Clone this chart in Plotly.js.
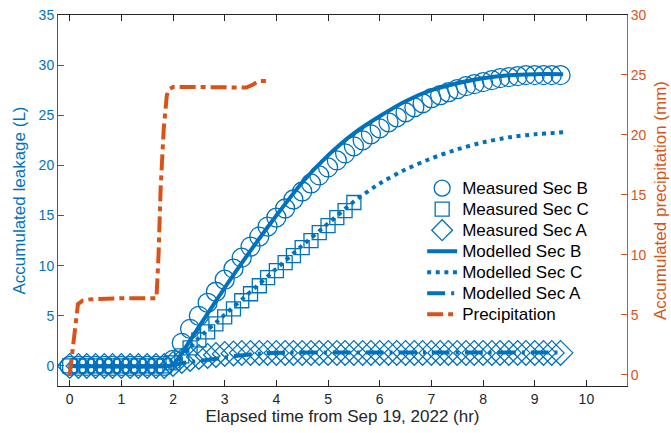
<!DOCTYPE html>
<html>
<head>
<meta charset="utf-8">
<script src="https://cdn.plot.ly/plotly-3.0.1.min.js"></script>
<style>html,body{margin:0;padding:0;background:#fff;}#chart{width:671px;height:433px;}</style>
</head>
<body>
<div id="chart"></div>
<script>
// Measured sampling times (hr)
const tMeas = [0, 0.17, 0.33, 0.5, 0.67, 0.83, 1.0, 1.17, 1.33, 1.5, 1.67, 1.83,
  2.0, 2.17, 2.33, 2.5, 2.67, 2.83, 3.0, 3.17, 3.33, 3.5, 3.67, 3.83,
  4.0, 4.17, 4.33, 4.5, 4.67, 4.83, 5.0, 5.17, 5.33, 5.5, 5.67, 5.83,
  6.0, 6.17, 6.33, 6.5, 6.67, 6.83, 7.0, 7.17, 7.33, 7.5, 7.67, 7.83,
  8.0, 8.17, 8.33, 8.5, 8.67, 8.83, 9.0, 9.17, 9.33, 9.5];
const measB = [0, 0, 0, 0, 0, 0, 0, 0, 0, 0, 0, 0,
  0.6, 2.3, 3.7, 5.0, 6.3, 7.4, 8.6, 9.7, 10.8, 11.9, 12.9, 13.9,
  14.8, 15.7, 16.6, 17.4, 18.2, 19.0, 19.8, 20.5, 21.2, 21.9, 22.5, 23.1,
  23.7, 24.3, 24.8, 25.3, 25.8, 26.2, 26.7, 27.0, 27.3, 27.6, 27.9, 28.1,
  28.3, 28.5, 28.7, 28.8, 28.9, 29.0, 29.0, 29.0, 29.0, 29.0];
const tMeasC = [0, 0.17, 0.33, 0.5, 0.67, 0.83, 1.0, 1.17, 1.33, 1.5, 1.67, 1.83,
  2.0, 2.17, 2.33, 2.5, 2.67, 2.83, 3.0, 3.17, 3.33, 3.5, 3.67, 3.83,
  4.0, 4.17, 4.33, 4.5, 4.67, 4.83, 5.0, 5.17, 5.33, 5.5];
const measC = [0, 0, 0, 0, 0, 0, 0, 0, 0, 0, 0, 0,
  0.3, 1.0, 1.8, 2.6, 3.4, 4.2, 4.9, 5.7, 6.5, 7.2, 8.0, 8.8,
  9.5, 10.3, 11.0, 11.8, 12.5, 13.3, 14.0, 14.8, 15.5, 16.3];
const measA = [0, 0, 0, 0, 0, 0, 0, 0, 0, 0, 0, 0,
  0.2, 0.5, 0.7, 0.9, 1.0, 1.1, 1.2, 1.25, 1.3, 1.3, 1.3, 1.3,
  1.3, 1.3, 1.3, 1.3, 1.3, 1.3, 1.3, 1.3, 1.3, 1.3, 1.3, 1.3,
  1.3, 1.3, 1.3, 1.3, 1.3, 1.3, 1.3, 1.3, 1.3, 1.3, 1.3, 1.3,
  1.3, 1.3, 1.3, 1.3, 1.3, 1.3, 1.3, 1.3, 1.3, 1.3];

// Modelled curves
const tModB = [0, 1.9, 2.0, 2.5, 3.0, 3.5, 4.0, 4.5, 5.0, 5.5, 6.0, 6.5, 7.0, 7.5, 8.0, 8.5, 9.0, 9.55];
const modB  = [0, 0, 0.1, 3.9, 7.8, 11.5, 15.0, 18.3, 21.0, 23.2, 24.9, 26.4, 27.5, 28.2, 28.7, 29.0, 29.1, 29.1];
const tModC = [0, 1.9, 2.0, 2.5, 3.0, 3.5, 4.0, 4.5, 5.0, 5.5, 6.0, 6.5, 7.0, 7.5, 8.0, 8.5, 9.0, 9.55];
const modC  = [0, 0, 0.1, 2.8, 5.1, 7.4, 9.7, 12.0, 14.2, 16.4, 18.2, 19.6, 20.7, 21.6, 22.3, 22.8, 23.1, 23.3];
const tModA = [0, 1.9, 2.2, 2.5, 2.8, 3.0, 3.4, 3.8, 4.2, 5.0, 6.0, 7.0, 8.0, 9.0, 9.55];
const modA  = [0, 0, 0.3, 0.5, 0.7, 0.85, 1.1, 1.28, 1.33, 1.35, 1.35, 1.35, 1.35, 1.35, 1.35];

// Precipitation (mm)
const tPrec = [0, 0.08, 0.16, 0.25, 0.39, 1.0, 1.68, 1.72, 1.76, 1.82, 1.88, 1.92, 2.0, 2.5, 3.0, 3.42, 3.55, 3.65, 3.85];
const prec  = [0, 3.0, 5.9, 6.2, 6.3, 6.4, 6.4, 10.0, 15.5, 20.5, 23.3, 23.8, 24.0, 24.0, 24.0, 23.95, 24.2, 24.5, 24.5];

const seriesNames = ['Measured Sec B', 'Measured Sec C', 'Measured Sec A',
                     'Modelled Sec B', 'Modelled Sec C', 'Modelled Sec A', 'Precipitation'];

const blue = '#0072BD', orange = '#D95319', dark = '#262626';
const FONT = '"Liberation Sans", Arial, Helvetica, sans-serif';
const lg = s => '<span style="font-size:17px">' + s + '</span>';

const traces = [
  {x: tMeas, y: measB, name: lg(seriesNames[0]), mode: 'markers', type: 'scatter',
   marker: {symbol: 'circle-open', size: 19, color: blue, line: {width: 1.3, color: blue}}},
  {x: tMeasC, y: measC, name: lg(seriesNames[1]), mode: 'markers', type: 'scatter',
   marker: {symbol: 'square-open', size: 14, color: blue, line: {width: 1.3, color: blue}}},
  {x: tMeas, y: measA, name: lg(seriesNames[2]), mode: 'markers', type: 'scatter',
   marker: {symbol: 'diamond-open', size: 19, color: blue, line: {width: 1.3, color: blue}}},
  {x: tModB, y: modB, name: lg(seriesNames[3]), mode: 'lines', type: 'scatter', line: {color: blue, width: 4, shape: 'spline', smoothing: 0.6}},
  {x: tModC, y: modC, name: lg(seriesNames[4]), mode: 'lines', type: 'scatter', line: {color: blue, width: 4, dash: '4px,4.6px', shape: 'spline', smoothing: 0.6}},
  {x: tModA, y: modA, name: lg(seriesNames[5]), mode: 'lines', type: 'scatter', line: {color: blue, width: 4, dash: '18px,6px,3px,6px', shape: 'spline', smoothing: 0.6}},
  {x: tPrec, y: prec, name: lg(seriesNames[6]), mode: 'lines', type: 'scatter', yaxis: 'y2', line: {color: orange, width: 4, dash: '16px,5px,5px,5px'}}
];

const layout = {
  width: 671, height: 433,
  margin: {l: 58, r: 44, t: 15, b: 47, pad: 0},
  paper_bgcolor: '#fff', plot_bgcolor: '#fff',
  font: {family: FONT, size: 14, color: dark},
  showlegend: true,
  legend: {x: 0.64, y: 0.575, xanchor: 'left', yanchor: 'top', bgcolor: 'rgba(0,0,0,0)',
           borderwidth: 0, font: {family: FONT, size: 13.85, color: '#000'}, tracegroupgap: 0},
  xaxis: {range: [-0.226, 10.786], dtick: 1, tick0: 0, ticks: 'inside', ticklen: 6, tickcolor: dark,
          showline: true, linecolor: dark, linewidth: 1, mirror: 'ticks', showgrid: false, zeroline: false,
          tickfont: {size: 14, color: dark},
          title: {text: 'Elapsed time from Sep 19, 2022 (hr)', font: {size: 17, color: dark}, standoff: 2}},
  yaxis: {range: [-2, 35], dtick: 5, tick0: 0, ticks: 'inside', ticklen: 6, tickcolor: blue,
          showline: true, linecolor: blue, linewidth: 1, showgrid: false, zeroline: false,
          tickfont: {size: 14, color: blue},
          title: {text: 'Accumulated leakage (L)', font: {size: 17, color: blue}, standoff: 8}},
  yaxis2: {range: [-0.92, 30], dtick: 5, tick0: 0, ticks: 'inside', ticklen: 6, tickcolor: orange,
           overlaying: 'y', side: 'right', showline: true, linecolor: orange, linewidth: 1,
           showgrid: false, zeroline: false, tickfont: {size: 14, color: orange},
           title: {text: 'Accumulated precipitation (mm)', font: {size: 17, color: orange}, standoff: 8}}
};

Plotly.newPlot('chart', traces, layout, {displayModeBar: false, staticPlot: true});
</script>
</body>
</html>
